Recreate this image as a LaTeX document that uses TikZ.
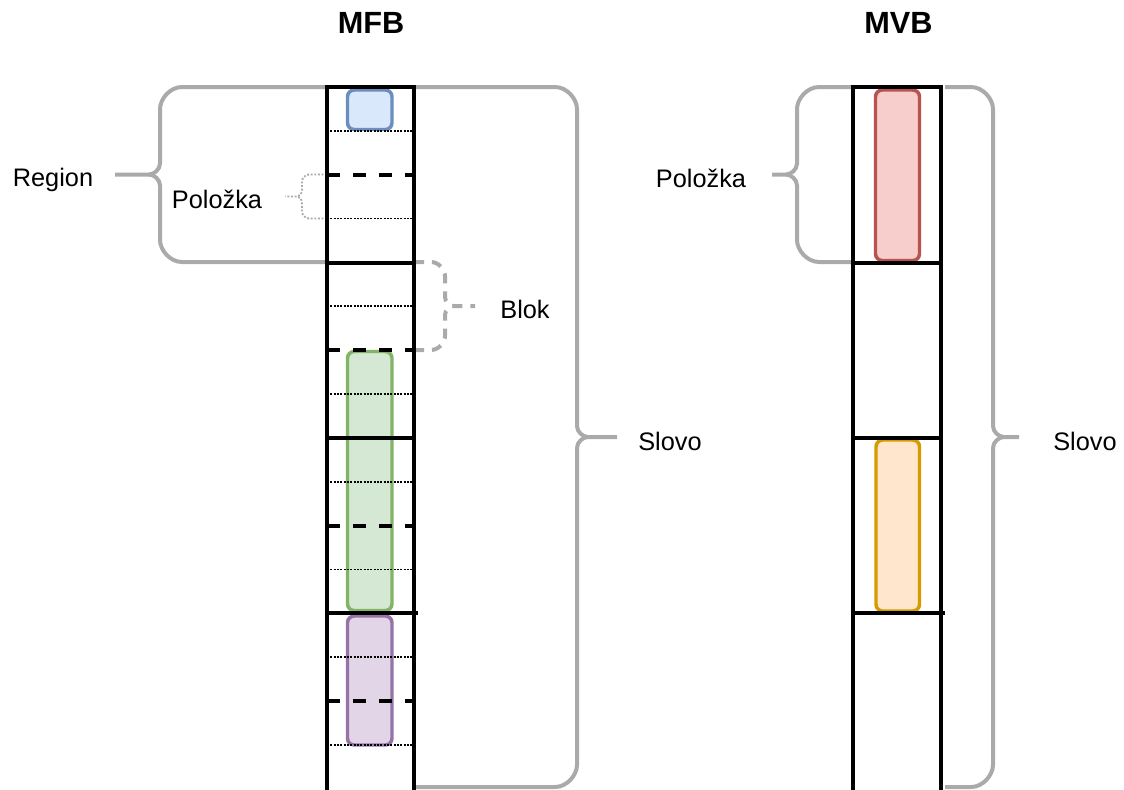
\documentclass[tikz,border=0pt]{standalone}
\usepackage{fontspec}
\setmainfont{Liberation Sans}
\definecolor{braceg}{HTML}{AAAAAA}
\definecolor{bluef}{HTML}{DAE8FC}\definecolor{blued}{HTML}{6C8EBF}
\definecolor{greenf}{HTML}{D5E8D4}\definecolor{greend}{HTML}{82B366}
\definecolor{purplef}{HTML}{E1D5E7}\definecolor{purpled}{HTML}{9673A6}
\definecolor{redf}{HTML}{F8CECC}\definecolor{redd}{HTML}{B85450}
\definecolor{orangef}{HTML}{FFE6CC}\definecolor{oranged}{HTML}{D79B00}
% curly bracket: style, arm x, spine x, top y, bottom y, tip x, corner radius, tip radius
\newcommand{\curlybrace}[8]{%
  \pgfmathsetmacro\bdir{sign(#6-#3)}%
  \pgfmathsetmacro\bmid{(#4+#5)/2}%
  \pgfmathsetmacro\bk{0.45*#7}%
  \pgfmathsetmacro\bt{0.45*#8}%
  \draw[#1] (#2,#4) -- ({#3-\bdir*#7},#4)
     .. controls ({#3-\bdir*\bk},#4) and (#3,{#4+#7-\bk}) .. (#3,{#4+#7})
     -- (#3,{\bmid-#8})
     .. controls (#3,{\bmid-\bt}) and ({#3+\bdir*(#8-\bt)},\bmid) .. ({#3+\bdir*#8},\bmid)
     -- (#6,\bmid);
  \draw[#1] (#2,#5) -- ({#3-\bdir*#7},#5)
     .. controls ({#3-\bdir*\bk},#5) and (#3,{#5-#7+\bk}) .. (#3,{#5-#7})
     -- (#3,{\bmid+#8})
     .. controls (#3,{\bmid+\bt}) and ({#3+\bdir*(#8-\bt)},\bmid) .. ({#3+\bdir*#8},\bmid);
}
\begin{document}
\begin{tikzpicture}[x=0.75pt,y=-0.75pt,
  column/.style={draw=black,line width=3pt},
  wordline/.style={black,line width=3pt},
  blockline/.style={black,line width=3pt,dash pattern=on 9.75pt off 9.75pt},
  itemline/.style={black,line width=1.4pt,dash pattern=on 1.4pt off 1.1pt},
  slot/.style={line width=2.6pt,rounded corners=5pt},
  brace/.style={braceg,line width=3pt},
  thinbrace/.style={braceg,line width=1.4pt,dash pattern=on 1.4pt off 1.3pt},
  dashbrace/.style={braceg,line width=3pt,dash pattern=on 7.5pt off 6pt},
  lbl/.style={font=\fontsize{19}{22}\selectfont,anchor=base,inner sep=0pt},
  ttl/.style={font=\fontsize{23}{27}\selectfont\bfseries,anchor=base,inner sep=0pt}]
\useasboundingbox (0,0) rectangle (1124,789);

% titles
\node[ttl] (tmfb) at (371,33) {MFB};
\node[ttl] (tmvb) at (898.5,33) {MVB};

% brackets
\curlybrace{brace}{327}{160}{87}{262}{115}{22}{11}
\curlybrace{thinbrace}{327}{302}{174.5}{218.5}{285}{7}{5}
\curlybrace{dashbrace}{414}{445}{262}{350}{475}{14}{9}
\curlybrace{brace}{414}{577}{87}{787}{617}{22}{11}
\curlybrace{brace}{853}{797}{87}{262}{772}{22}{11}
\curlybrace{brace}{945}{993}{87}{787}{1019}{22}{11}

% labels
\node[lbl] (region) at (53,186) {Region};
\node[lbl] (itema) at (217,208) {Položka};
\node[lbl] (blok) at (525,318) {Blok};
\node[lbl] (worda) at (670,450) {Slovo};
\node[lbl] (itemb) at (701,187) {Položka};
\node[lbl] (wordb) at (1085,450) {Slovo};

% MFB column: occupied items
\draw[slot,fill=bluef,draw=blued] (347.5,90) rectangle (392,129.5);
\draw[slot,fill=greenf,draw=greend] (347.5,351.5) rectangle (392,610.5);
\draw[slot,fill=purplef,draw=purpled] (347.5,616) rectangle (392,745);

% MFB column: item, block and word boundaries
\foreach \y in {131,218.5,306,394,482,569.5,657,745}
  \draw[itemline] (327,\y) -- (414,\y);
\foreach \y in {174.5,350,525.5,701}
  \draw[blockline] (327,\y) -- (414,\y);
\draw[wordline] (327,262.5) -- (414,262.5);
\draw[wordline] (327,438) -- (414,438);
\draw[wordline] (327,613) -- (418,613);
\draw[column] (327,87) rectangle (414,792);

% MVB column
\draw[slot,fill=redf,draw=redd] (875.5,90) rectangle (919.5,260.5);
\draw[slot,fill=orangef,draw=oranged] (876,440) rectangle (919.5,611);
\draw[wordline] (853,262.5) -- (941,262.5);
\draw[wordline] (853,438) -- (941,438);
\draw[wordline] (853,613) -- (945,613);
\draw[column] (853,87) rectangle (941,792);
\end{tikzpicture}
\end{document}
